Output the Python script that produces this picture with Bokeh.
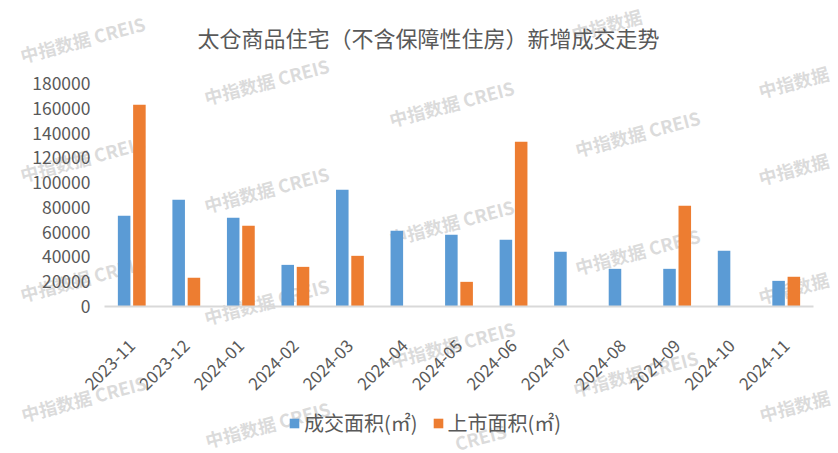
import math
from bokeh.plotting import figure
from bokeh.models import (Range1d, FixedTicker, NumeralTickFormatter, LinearAxis,
                          Legend, LegendItem, Label, ColumnDataSource)
from bokeh.transform import dodge
from bokeh.embed import file_html
from bokeh.resources import INLINE

# ---- data ----
months = ["2023-11", "2023-12", "2024-01", "2024-02", "2024-03", "2024-04", "2024-05",
          "2024-06", "2024-07", "2024-08", "2024-09", "2024-10", "2024-11"]
deal_area = [73200, 86100, 71600, 33600, 94200, 61100, 57900,
             53800, 44100, 30400, 30400, 45000, 20700]
supply_area = [162800, 23200, 65100, 32000, 40900, 0, 19900,
               132900, 0, 0, 81300, 0, 24000]
y_ticks = [0, 20000, 40000, 60000, 80000, 100000, 120000, 140000, 160000, 180000]
series_names = ["成交面积(㎡)", "上市面积(㎡)"]
title_text = "太仓商品住宅（不含保障性住房）新增成交走势"
watermark_text = "中指数据  CREIS"

FONT = "Noto Sans CJK SC"
TXT = "#595959"
BLUE = "#5B9BD5"
ORANGE = "#ED7D31"

W, H = 838, 453
PLOT_L, PLOT_R, PLOT_T, PLOT_B = 104, 813, 83, 306   # plot area in canvas pixels
Y_MAX = 180000

n = len(months)
unit = (PLOT_R - PLOT_L) / n
x_start = -PLOT_L / unit
x_end = n + (W - PLOT_R) / unit
ypp = Y_MAX / (PLOT_B - PLOT_T)
y_start = -(H - PLOT_B) * ypp
y_end = Y_MAX + PLOT_T * ypp

xc = [i + 0.5 for i in range(n)]
src = ColumnDataSource(dict(xc=xc, month=months, deal=deal_area, supply=supply_area))

p = figure(x_range=Range1d(x_start, x_end), y_range=Range1d(y_start, y_end),
           width=W, height=H, output_backend="svg", toolbar_location=None, title=None,
           x_axis_location=None, y_axis_location=None,
           min_border=0, min_border_left=0, min_border_right=0,
           min_border_top=0, min_border_bottom=0)
p.background_fill_color = "white"
p.border_fill_color = "white"
p.outline_line_color = None

# watermarks (decorative)
wm_full = [(84, 38), (268, 80), (453, 102),
           (84, 157), (268, 188), (639, 132), (453, 221),
           (639, 250), (84, 277), (268, 300), (454, 343),
           (637, 372), (85, 397), (269, 423)]
wm_left = [(606, 24), (793, 81), (793, 168), (793, 287), (794, 405)]  # only "中指数据" visible
wm_right = [(480, 436)]                                               # only "CREIS" visible
wm_style = dict(x_units="canvas", y_units="canvas", angle=0.26, text_align="center",
                text_baseline="middle", text_font=FONT, text_font_style="bold",
                text_font_size="18px", text_color="#c4c4c4", text_alpha=0.6, level="underlay")
for (wx, wy) in wm_full:
    p.add_layout(Label(x=wx, y=wy, text=watermark_text, **wm_style))
for (wx, wy) in wm_left:
    p.add_layout(Label(x=wx, y=wy, text="中指数据", **wm_style))
for (wx, wy) in wm_right:
    p.add_layout(Label(x=wx, y=wy, text="CREIS", **wm_style))

r1 = p.vbar(x=dodge("xc", -0.14), top="deal", width=0.23,
            source=src, fill_color=BLUE, line_color=None)
r2 = p.vbar(x=dodge("xc", 0.14), top="supply", width=0.23,
            source=src, fill_color=ORANGE, line_color=None)

# axes drawn at fixed locations inside the full-canvas frame
ya = LinearAxis(fixed_location=0, bounds=(0, Y_MAX))
ya.ticker = FixedTicker(ticks=y_ticks)
ya.formatter = NumeralTickFormatter(format="0")
ya.axis_line_color = None
ya.major_tick_line_color = None
ya.minor_tick_line_color = None
ya.major_tick_in = 0
ya.major_tick_out = 0
ya.major_label_standoff = 14
ya.major_label_text_font = FONT
ya.major_label_text_font_size = "17.5px"
ya.major_label_text_color = TXT
p.add_layout(ya, "left")

xa = LinearAxis(fixed_location=0, bounds=(0, n))
xa.ticker = FixedTicker(ticks=xc)
xa.major_label_overrides = {xc[i]: months[i] for i in range(n)}
xa.axis_line_color = "#d9d9d9"
xa.axis_line_width = 2
xa.major_tick_line_color = None
xa.minor_tick_line_color = None
xa.major_tick_in = 0
xa.major_tick_out = 0
xa.major_label_orientation = math.pi / 4
xa.major_label_standoff = 36
xa.major_label_text_font = FONT
xa.major_label_text_font_size = "17px"
xa.major_label_text_color = TXT
p.add_layout(xa, "below")

p.xgrid.visible = False
p.ygrid.visible = False

# title
p.add_layout(Label(x=428, y=36, x_units="canvas", y_units="canvas", text=title_text,
                   text_align="center", text_baseline="middle", text_font=FONT,
                   text_font_size="22px", text_color=TXT))

legend = Legend(items=[LegendItem(label=series_names[0], renderers=[r1]),
                       LegendItem(label=series_names[1], renderers=[r2])],
                orientation="horizontal", location=(288, 16),
                glyph_width=12, glyph_height=12, label_standoff=4, spacing=14,
                padding=0, margin=0, border_line_color=None, background_fill_alpha=0,
                label_text_font=FONT, label_text_font_size="20px", label_text_color=TXT)
p.add_layout(legend, "center")

open("out.html", "w").write(file_html(p, INLINE))
